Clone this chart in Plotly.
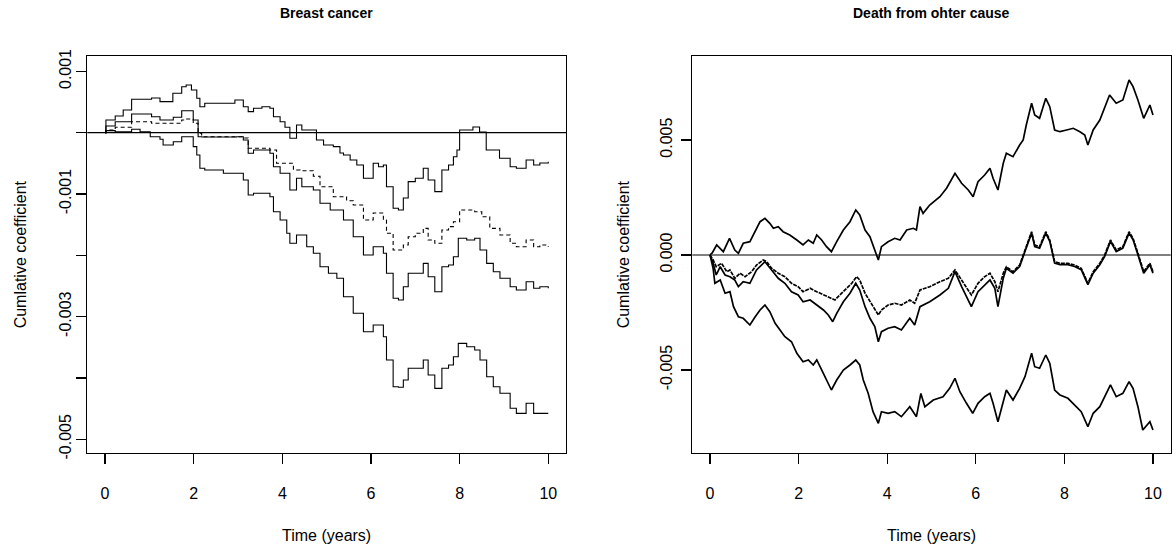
import plotly.graph_objects as go

# ---------------- data (values in units of 1e-3) ----------------
# Left panel: Breast cancer (step functions)
bc_upper_t = [0.0, 0.02, 0.23, 0.41, 0.60, 1.05, 1.24, 1.53, 1.73, 1.83, 1.95, 2.07, 2.14, 2.25, 2.93, 3.12, 3.23, 3.35,
              3.54, 3.72, 3.80, 3.95, 4.06, 4.17, 4.32, 4.44, 4.77, 4.93, 5.15, 5.30, 5.38, 5.53, 5.68, 5.83, 6.05,
              6.17, 6.28, 6.35, 6.50, 6.62, 6.73, 6.84, 7.00, 7.18, 7.29, 7.44, 7.60, 7.75, 7.86, 7.94, 8.00, 8.30,
              8.45, 8.60, 8.90, 9.14, 9.28, 9.50, 9.67, 9.81, 10.0]
bc_upper_v = [0.0, 0.207, 0.272, 0.370, 0.545, 0.566, 0.506, 0.643, 0.750, 0.778, 0.697, 0.561, 0.424, 0.480, 0.533,
              0.424, 0.343, 0.398, 0.424, 0.398, 0.261, 0.179, 0.088, -0.091, 0.126, 0.044, -0.119, -0.201, -0.228,
              -0.331, -0.364, -0.445, -0.527, -0.744, -0.499, -0.555, -0.527, -0.881, -1.233, -1.261, -1.065,
              -0.799, -0.744, -0.581, -0.772, -0.962, -0.608, -0.527, -0.392, -0.282, 0.044, 0.093, 0.011, -0.282,
              -0.418, -0.555, -0.581, -0.445, -0.527, -0.494, -0.473]

bc_est_t = [0.0, 0.02, 0.23, 0.60, 1.05, 1.24, 1.54, 1.73, 1.99, 2.10, 2.18, 2.97, 3.12, 3.23, 3.35, 3.72, 3.80, 3.95,
            4.17, 4.32, 4.44, 4.70, 4.85, 5.08, 5.38, 5.60, 5.83, 6.05, 6.28, 6.35, 6.50, 6.62, 6.73, 6.84, 7.00,
            7.18, 7.29, 7.44, 7.60, 7.75, 7.86, 7.97, 8.16, 8.34, 8.46, 8.61, 8.76, 8.91, 9.14, 9.28, 9.50, 9.67,
            9.81, 10.0]
bc_est_v = [0.0, 0.109, 0.179, 0.305, 0.261, 0.207, 0.251, 0.359, 0.207, -0.065, -0.070, -0.065, -0.119, -0.336,
            -0.282, -0.336, -0.555, -0.662, -0.935, -0.744, -0.881, -0.935, -1.152, -1.261, -1.424, -1.697, -1.995,
            -1.860, -1.967, -2.294, -2.701, -2.729, -2.512, -2.294, -2.294, -2.131, -2.349, -2.594, -2.186, -2.158,
            -2.023, -1.723, -1.750, -1.723, -1.914, -2.131, -2.268, -2.375, -2.512, -2.566, -2.431, -2.538, -2.512,
            -2.538]

bc_dash_t = [0.0, 0.02, 0.23, 0.60, 1.05, 1.73, 1.83, 1.99, 2.10, 2.18, 3.12, 3.23, 3.72, 3.87, 4.25, 4.40, 4.70,
             4.85, 5.15, 5.45, 5.60, 5.83, 6.05, 6.28, 6.35, 6.50, 6.73, 6.84, 7.00, 7.18, 7.29, 7.44, 7.60, 7.75,
             7.86, 8.00, 8.34, 8.50, 8.68, 8.91, 9.14, 9.28, 9.50, 9.67, 9.81, 10.0]
bc_dash_v = [0.0, 0.044, 0.088, 0.179, 0.153, 0.207, 0.223, 0.153, -0.010, -0.065, -0.086, -0.254, -0.282, -0.499,
             -0.608, -0.620, -0.710, -0.881, -1.044, -1.110, -1.179, -1.424, -1.310, -1.424, -1.641, -1.914, -1.832,
             -1.697, -1.641, -1.560, -1.750, -1.804, -1.587, -1.533, -1.452, -1.261, -1.289, -1.370, -1.560, -1.669,
             -1.804, -1.860, -1.750, -1.860, -1.832, -1.860]

bc_lower_t = [0.0, 0.02, 0.23, 0.60, 0.79, 1.02, 1.24, 1.31, 1.54, 1.73, 1.99, 2.07, 2.14, 2.25, 2.67, 3.12, 3.23,
              3.35, 3.72, 3.80, 3.95, 4.10, 4.17, 4.32, 4.55, 4.70, 4.85, 5.04, 5.23, 5.38, 5.60, 5.83, 6.05, 6.28,
              6.35, 6.50, 6.62, 6.73, 6.84, 7.00, 7.18, 7.29, 7.44, 7.60, 7.75, 7.86, 7.97, 8.16, 8.34, 8.46, 8.61,
              8.76, 8.91, 9.14, 9.28, 9.50, 9.67, 9.81, 10.0]
bc_lower_v = [0.0, 0.033, 0.016, 0.055, 0.016, -0.065, -0.108, -0.201, -0.147, -0.065, -0.228, -0.364, -0.581,
              -0.608, -0.662, -0.772, -1.016, -0.989, -1.044, -1.289, -1.424, -1.641, -1.804, -1.669, -1.860, -1.967,
              -2.186, -2.294, -2.375, -2.675, -2.946, -3.246, -3.137, -3.328, -3.708, -4.144, -4.153, -4.034, -3.843,
              -3.843, -3.708, -3.953, -4.170, -3.843, -3.790, -3.654, -3.436, -3.491, -3.545, -3.708, -3.980, -4.144,
              -4.251, -4.496, -4.578, -4.414, -4.578, -4.578, -4.578]

# Right panel: Death from other cause
oc_upper_t = [0.0, 0.05, 0.15, 0.30, 0.44, 0.56, 0.64, 0.75, 0.90, 0.98, 1.13, 1.24, 1.35, 1.43, 1.54, 1.65, 1.80,
              1.96, 2.10, 2.22, 2.33, 2.41, 2.52, 2.63, 2.74, 2.86, 3.01, 3.16, 3.29, 3.38, 3.50, 3.61, 3.72, 3.80,
              3.87, 4.02, 4.17, 4.29, 4.44, 4.59, 4.66, 4.74, 4.81, 4.96, 5.19, 5.34, 5.53, 5.68, 5.83, 5.94, 6.05,
              6.20, 6.32, 6.39, 6.50, 6.62, 6.69, 6.84, 6.99, 7.07, 7.14, 7.26, 7.33, 7.44, 7.58, 7.67, 7.78, 7.90,
              8.05, 8.20, 8.35, 8.46, 8.53, 8.65, 8.80, 8.91, 9.02, 9.17, 9.32, 9.46, 9.55, 9.66, 9.79, 9.93, 10.0]
oc_upper_v = [0.0, 0.087, 0.435, 0.143, 0.726, 0.217, 0.074, 0.509, 0.578, 0.870, 1.448, 1.596, 1.378, 1.161, 1.230,
              1.013, 0.870, 0.652, 0.435, 0.652, 0.509, 0.870, 0.652, 0.361, 0.143, 0.578, 1.087, 1.448, 1.957, 1.739,
              1.087, 0.796, 0.217, -0.217, 0.361, 0.578, 0.726, 0.652, 1.087, 1.161, 1.087, 2.100, 1.813, 2.174,
              2.535, 2.900, 3.552, 3.117, 2.826, 2.535, 3.187, 3.478, 3.770, 3.335, 2.826, 3.987, 4.422, 4.274, 4.783,
              5.000, 5.652, 6.596, 6.087, 5.944, 6.813, 6.448, 5.435, 5.361, 5.435, 5.509, 5.361, 5.218, 4.783,
              5.435, 5.870, 6.378, 6.957, 6.596, 6.739, 7.609, 7.318, 6.739, 5.944, 6.522, 6.087]

oc_est_t = [0.0, 0.07, 0.14, 0.26, 0.38, 0.45, 0.56, 0.68, 0.79, 0.94, 1.05, 1.20, 1.28, 1.39, 1.54, 1.69, 1.84,
            1.99, 2.10, 2.26, 2.41, 2.56, 2.71, 2.82, 2.93, 3.08, 3.20, 3.31, 3.38, 3.50, 3.61, 3.72, 3.80, 3.87,
            4.02, 4.17, 4.32, 4.51, 4.62, 4.74, 4.96, 5.19, 5.38, 5.53, 5.68, 5.79, 5.90, 6.05, 6.20, 6.32, 6.43,
            6.50, 6.62, 6.69, 6.84, 6.99, 7.11, 7.26, 7.33, 7.44, 7.58, 7.67, 7.78, 7.90, 8.08, 8.23, 8.38, 8.53,
            8.65, 8.80, 8.91, 9.04, 9.17, 9.32, 9.46, 9.55, 9.66, 9.79, 9.93, 10.0]
oc_est_v = [0.0, -0.217, -0.509, -0.361, -0.726, -0.652, -1.013, -0.796, -0.943, -0.726, -0.435, -0.217, -0.291,
            -0.578, -0.796, -0.943, -1.230, -1.378, -1.596, -1.448, -1.596, -1.739, -1.883, -1.957, -1.739, -1.448,
            -1.230, -0.943, -1.087, -1.665, -2.031, -2.391, -2.609, -2.391, -2.174, -2.100, -2.174, -1.957, -2.100,
            -1.522, -1.378, -1.161, -1.013, -0.652, -1.087, -1.378, -1.739, -1.230, -0.943, -0.796, -1.161, -1.596,
            -0.796, -0.509, -0.726, -0.435, 0.217, 1.013, 0.435, 0.361, 1.013, 0.652, -0.291, -0.361, -0.361,
            -0.435, -0.578, -1.230, -0.726, -0.361, 0.000, 0.652, 0.217, 0.361, 1.013, 0.726, 0.074, -0.726,
            -0.361, -0.726]

oc_mid_t = [0.0, 0.07, 0.14, 0.23, 0.34, 0.45, 0.56, 0.64, 0.75, 0.90, 1.05, 1.24, 1.39, 1.54, 1.69, 1.84, 1.99,
            2.10, 2.26, 2.41, 2.56, 2.67, 2.77, 2.86, 3.01, 3.16, 3.29, 3.38, 3.50, 3.61, 3.72, 3.80, 3.87, 4.02,
            4.17, 4.32, 4.51, 4.62, 4.74, 4.96, 5.19, 5.38, 5.53, 5.68, 5.90, 6.05, 6.20, 6.32, 6.43, 6.50, 6.62,
            6.69, 6.84, 6.99, 7.11, 7.26, 7.33, 7.44, 7.58, 7.67, 7.78, 7.90, 8.08, 8.23, 8.38, 8.53, 8.65, 8.80,
            8.91, 9.04, 9.17, 9.32, 9.46, 9.55, 9.66, 9.79, 9.93, 10.0]
oc_mid_v = [0.0, -0.361, -0.870, -0.509, -0.870, -0.943, -1.087, -1.378, -1.161, -1.230, -0.652, -0.291, -0.652,
            -1.013, -1.230, -1.596, -1.739, -2.031, -1.957, -2.174, -2.391, -2.609, -2.900, -2.535, -2.031, -1.665,
            -1.230, -1.522, -2.248, -2.752, -3.117, -3.770, -3.335, -3.187, -3.117, -3.261, -2.752, -3.044, -2.248,
            -2.031, -1.739, -1.448, -0.726, -1.378, -2.248, -1.596, -1.304, -1.087, -1.448, -2.248, -1.013, -0.578,
            -0.790, -0.500, 0.150, 0.950, 0.370, 0.300, 0.950, 0.590, -0.350, -0.420, -0.420, -0.500, -0.640,
            -1.290, -0.790, -0.420, -0.060, 0.590, 0.150, 0.300, 0.950, 0.660, 0.010, -0.790, -0.420, -0.790]

oc_lower_t = [0.0, 0.07, 0.11, 0.23, 0.34, 0.45, 0.53, 0.64, 0.75, 0.90, 1.02, 1.13, 1.24, 1.35, 1.47, 1.58, 1.69,
              1.84, 1.96, 2.10, 2.22, 2.33, 2.41, 2.52, 2.63, 2.74, 2.86, 3.01, 3.16, 3.29, 3.38, 3.46, 3.57, 3.68,
              3.80, 3.87, 4.02, 4.17, 4.32, 4.51, 4.66, 4.76, 4.85, 5.04, 5.26, 5.41, 5.53, 5.64, 5.79, 5.93, 6.05,
              6.20, 6.32, 6.39, 6.50, 6.62, 6.69, 6.84, 6.99, 7.11, 7.26, 7.33, 7.44, 7.58, 7.67, 7.78, 7.90, 8.08,
              8.23, 8.38, 8.53, 8.65, 8.80, 8.91, 9.04, 9.17, 9.32, 9.46, 9.55, 9.66, 9.77, 9.93, 10.0]
oc_lower_v = [0.0, -0.578, -1.230, -1.087, -1.665, -1.596, -2.248, -2.683, -2.752, -3.044, -2.683, -2.391, -2.174,
              -2.465, -2.970, -3.261, -3.552, -3.770, -4.274, -4.639, -4.565, -4.783, -4.565, -5.000, -5.435, -5.870,
              -5.435, -5.000, -4.783, -4.565, -4.783, -5.435, -6.013, -6.813, -7.318, -6.813, -6.883, -6.813, -7.031,
              -6.596, -7.031, -6.020, -6.596, -6.305, -6.161, -5.796, -5.361, -5.944, -6.448, -6.883, -6.448, -6.161,
              -6.013, -6.448, -7.248, -6.305, -5.870, -6.305, -5.796, -5.291, -4.274, -4.857, -4.926, -4.348, -4.709,
              -5.870, -6.087, -6.231, -6.522, -6.813, -7.466, -6.883, -6.596, -6.161, -5.652, -6.161, -6.013, -5.509,
              -5.796, -6.596, -7.609, -7.248, -7.609]

x_ticks = [0, 2, 4, 6, 8, 10]
left_ytick_vals = [0.001, 0.0, -0.001, -0.002, -0.003, -0.004, -0.005]
left_ytick_text = ["0.001", "", "-0.001", "", "-0.003", "", "-0.005"]
right_ytick_vals = [0.005, 0.0, -0.005]
right_ytick_text = ["0.005", "0.000", "-0.005"]

titles = ["Breast cancer", "Death from ohter cause"]
x_title = "Time (years)"
y_title = "Cumlative coefficient"

# ---------------- figure ----------------
W, H = 1176, 554
FONT = "Liberation Sans, Arial, Helvetica, sans-serif"


def sc(v):
    return [a * 1e-3 for a in v]


fig = go.Figure()
BLACK = "#000000"

# left panel
for t, v, dash in [(bc_upper_t, bc_upper_v, "solid"), (bc_dash_t, bc_dash_v, "4px,3px"),
                   (bc_est_t, bc_est_v, "solid"), (bc_lower_t, bc_lower_v, "solid")]:
    fig.add_trace(go.Scatter(x=t, y=sc(v), mode="lines", line=dict(color=BLACK, width=1.1, dash=dash, shape="hv"),
                             xaxis="x", yaxis="y", showlegend=False, hoverinfo="skip"))

# right panel
for t, v, dash in [(oc_upper_t, oc_upper_v, "solid"), (oc_est_t, oc_est_v, "4px,1px"),
                   (oc_mid_t, oc_mid_v, "solid"), (oc_lower_t, oc_lower_v, "solid")]:
    fig.add_trace(go.Scatter(x=t, y=sc(v), mode="lines", line=dict(color=BLACK, width=1.7, dash=dash),
                             xaxis="x2", yaxis="y2", showlegend=False, hoverinfo="skip"))

for xr, yr in [("x", "y"), ("x2", "y2")]:
    fig.add_shape(type="line", xref=f"{xr} domain", yref=yr, x0=0, x1=1, y0=0, y1=0,
                  line=dict(color=BLACK, width=1.2), layer="above")

xdom1 = [87.3 / W, 566.0 / W]
xdom2 = [692.3 / W, 1170.7 / W]
ydom = [1 - 452.7 / H, 1 - 56.0 / H]

axis_common = dict(showline=True, mirror=True, linecolor=BLACK, linewidth=1.2, ticks="outside",
                   ticklen=10, tickwidth=1.2, tickcolor=BLACK, showgrid=False, zeroline=False,
                   automargin=False, tickfont=dict(family=FONT, size=16, color=BLACK))

fig.update_layout(
    width=W, height=H, template="none",
    paper_bgcolor="white", plot_bgcolor="white",
    margin=dict(l=0, r=0, t=0, b=0, autoexpand=False),
    xaxis=dict(domain=xdom1, range=[-0.4, 10.4], tickvals=x_ticks, anchor="y",
               ticklabelstandoff=16, **axis_common),
    yaxis=dict(domain=ydom, range=[-0.00522, 0.001251], tickvals=left_ytick_vals, ticktext=left_ytick_text,
               tickangle=-90, anchor="x", ticklabelstandoff=-1, **axis_common),
    xaxis2=dict(domain=xdom2, range=[-0.4, 10.4], tickvals=x_ticks, anchor="y2",
                ticklabelstandoff=16, **axis_common),
    yaxis2=dict(domain=ydom, range=[-0.008596, 0.008652], tickvals=right_ytick_vals, ticktext=right_ytick_text,
                tickangle=-90, anchor="x2", ticklabelstandoff=3, **axis_common),
)

cx1 = (xdom1[0] + xdom1[1]) / 2
cx2 = (xdom2[0] + xdom2[1]) / 2
ymid = (ydom[0] + ydom[1]) / 2
ann = []
for cx, ttl in [(cx1, titles[0]), (cx2, titles[1])]:
    ann.append(dict(text=f"<b>{ttl}</b>", x=cx, y=1 - 13 / H, xref="paper", yref="paper", showarrow=False,
                    xanchor="center", yanchor="middle", font=dict(family=FONT, size=14, color=BLACK)))
    ann.append(dict(text=x_title, x=cx, y=1 - 535 / H, xref="paper", yref="paper", showarrow=False,
                    xanchor="center", yanchor="middle", font=dict(family=FONT, size=16, color=BLACK)))
for px in [20, 623]:
    ann.append(dict(text=y_title, x=px / W, y=ymid, xref="paper", yref="paper", showarrow=False,
                    textangle=-90, xanchor="center", yanchor="middle", font=dict(family=FONT, size=16, color=BLACK)))
fig.update_layout(annotations=ann)

fig.write_html("out.html", config={"displayModeBar": False, "staticPlot": True},
               post_script="document.body.style.margin='0';document.body.style.overflow='hidden';")
